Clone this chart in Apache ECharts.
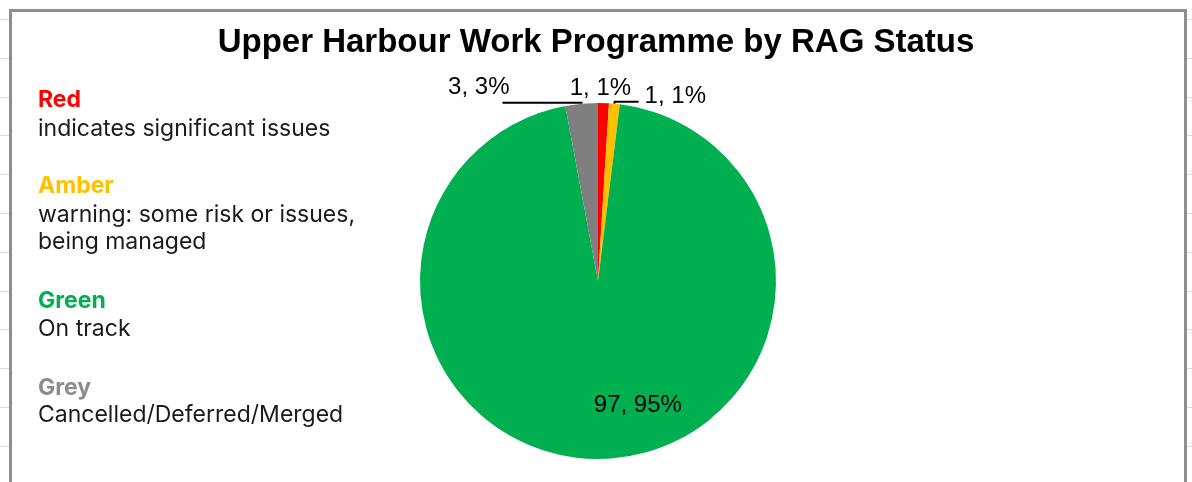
<!DOCTYPE html>
<html><head><meta charset="utf-8">
<script src="https://cdn.jsdelivr.net/npm/echarts@6/dist/echarts.min.js"></script>
<style>
html,body{margin:0;padding:0;width:1192px;height:482px;overflow:hidden;background:#fff;}
#sheet{position:absolute;left:0;top:0;width:1192px;height:482px;
background-image:repeating-linear-gradient(to bottom, transparent 0px, transparent 19px, #dcdcdc 19px, #dcdcdc 20px, transparent 20px, transparent 38.8px);}
#box{position:absolute;left:9px;top:9px;width:1178px;height:500px;box-sizing:border-box;border:3px solid #8f8f8f;background:#fff;}
#chart{position:absolute;left:0;top:0;width:1192px;height:482px;}
</style></head>
<body>
<div id="sheet"></div>
<div id="box"></div>
<div id="chart"></div>
<script>
const chartTitle = 'Upper Harbour Work Programme by RAG Status';
const categories = ['Red', 'Amber', 'Green', 'Grey'];
const values = [1, 1, 97, 3];
const colors = ['#FF0000', '#FFC000', '#00B050', '#7F7F7F'];
const legendNames = ['Red', 'Amber', 'Green', 'Grey'];
const legendColors = ['#FF0000', '#FFC000', '#00B050', '#8C8C8C'];
const legendDescriptions = [
  ['indicates significant issues'],
  ['warning: some risk or issues,', 'being managed'],
  ['On track'],
  ['Cancelled/Deferred/Merged']
];
// label nudges (relative to library placement)
const labelOffsets = [[-39, -7], [1, -5], [37, 32], [12, -15]];
const labelLineLengths = [[8, 0], [2, 24], [0, 0], [1, 79]];

const legendFont = 'Inter, "Noto Sans", sans-serif';
const graphics = [];
const groupTop = [101, 187, 302, 389];
const lineGaps = [[29], [29, 27], [28], [27]];
legendNames.forEach((n, i) => {
  graphics.push({type: 'text', left: 38, top: groupTop[i] - 12, style: {
    text: n, fill: legendColors[i], font: 'bold 23px ' + legendFont}});
  let y = groupTop[i] - 12;
  legendDescriptions[i].forEach((d, j) => {
    y += lineGaps[i][j];
    graphics.push({type: 'text', left: 38, top: y, style: {
      text: d, fill: '#1a1a1a', font: '23px ' + legendFont}});
  });
});

const chart = echarts.init(document.getElementById('chart'), null, {renderer: 'canvas'});
chart.setOption({
  animation: false,
  title: {
    text: chartTitle, left: 'center', top: 21,
    textStyle: {fontFamily: '"Liberation Sans", Arial, sans-serif', fontSize: 33, fontWeight: 'bold', color: '#000'}
  },
  graphic: graphics,
  series: [{
    type: 'pie',
    center: [598, 281],
    radius: 178,
    startAngle: 90,
    clockwise: true,
    avoidLabelOverlap: false,
    percentPrecision: 0,
    itemStyle: {borderWidth: 0},
    label: {
      show: true,
      formatter: '{c}, {d}%',
      fontFamily: '"Liberation Sans", Arial, sans-serif',
      fontSize: 24,
      color: '#000'
    },
    labelLine: {lineStyle: {color: '#000', width: 2}},
    labelLayout: function (p) {
      const o = labelOffsets[p.dataIndex];
      return {dx: o[0], dy: o[1]};
    },
    data: categories.map((c, i) => ({
      name: c,
      value: values[i],
      itemStyle: {color: colors[i]},
      label: {position: i === 2 ? 'inside' : 'outside'},
      labelLine: {show: i === 1 || i === 3, length: labelLineLengths[i][0], length2: labelLineLengths[i][1]}
    }))
  }]
});
</script>
</body></html>
